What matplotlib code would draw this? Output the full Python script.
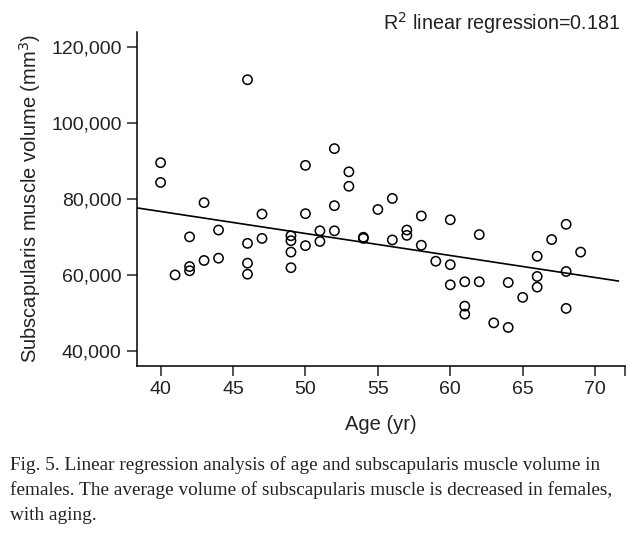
import numpy as np
import matplotlib.pyplot as plt

# Age (yr) and subscapularis muscle volume (mm3)
ages = [40, 40, 41, 42, 42, 42, 43, 43, 44, 44,
        46, 46, 46, 46, 47, 47, 49, 49, 49, 49,
        50, 50, 50, 51, 51, 52, 52, 52, 53, 53,
        54, 54, 55, 56, 56, 57, 57, 58, 58, 59,
        60, 60, 60, 61, 61, 61, 62, 62, 63, 64,
        64, 65, 66, 66, 66, 67, 68, 68, 68, 69]
volumes = [89500, 84300, 60000, 70000, 62200, 61100, 79000, 63800, 71800, 64400,
           111300, 68300, 63100, 60200, 76000, 69600, 70300, 69000, 66000, 61900,
           88800, 76100, 67700, 71600, 68800, 93200, 78200, 71600, 87100, 83300,
           69900, 69600, 77200, 80100, 69200, 71800, 70400, 75500, 67800, 63600,
           74500, 62700, 57400, 58200, 51800, 49700, 70600, 58200, 47400, 58000,
           46200, 54100, 64900, 59600, 56800, 69300, 73300, 60900, 51200, 66000]

# regression line end points
line_ages = [38.4, 71.6]
line_volumes = [77600, 58400]

x_ticks = [40, 45, 50, 55, 60, 65, 70]
y_ticks = [40000, 60000, 80000, 100000, 120000]

plt.rcParams['font.family'] = ['Liberation Sans', 'DejaVu Sans']

fig = plt.figure(figsize=(6.36, 5.39), dpi=100)
ax = fig.add_axes([0.2154, 0.321, 0.767, 0.620])

ax.scatter(ages, volumes, s=45, facecolors='none', edgecolors='black', linewidths=1.1, zorder=3)
ax.plot(line_ages, line_volumes, color='black', linewidth=1.2)

ax.set_xlim(38.37, 72.05)
ax.set_ylim(36070, 123900)
ax.set_xticks(x_ticks + [72.05])
ax.set_xticklabels([str(t) for t in x_ticks] + [''])
ax.set_yticks(y_ticks)
ax.set_yticklabels(['{:,}'.format(t) for t in y_ticks])

for side in ['top', 'right']:
    ax.spines[side].set_visible(False)
for side in ['left', 'bottom']:
    ax.spines[side].set_linewidth(1.1)
ax.tick_params(axis='both', direction='out', length=7, width=1.1, labelsize=14,
               colors='#222222', pad=4)

ax.set_xlabel('Age (yr)', fontsize=14.5, color='#222222', labelpad=12)
ax.set_ylabel('Subscapularis muscle volume (mm$^3$)', fontsize=14.5, color='#222222', labelpad=6)

fig.text(0.975, 0.958, 'R$^2$ linear regression=0.181', ha='right', va='center',
         fontsize=14.2, color='#222222')

# Caption
caption = ["Fig. 5. Linear regression analysis of age and subscapularis muscle volume in",
           "females. The average volume of subscapularis muscle is decreased in females,",
           "with aging."]
for i, line in enumerate(caption):
    fig.text(0.016, 0.137 - i * 0.0465, line, ha='left', va='center',
             fontsize=13.9, family=['Liberation Serif', 'DejaVu Serif'], color='#222222')

fig.savefig('out.png', dpi=100)
